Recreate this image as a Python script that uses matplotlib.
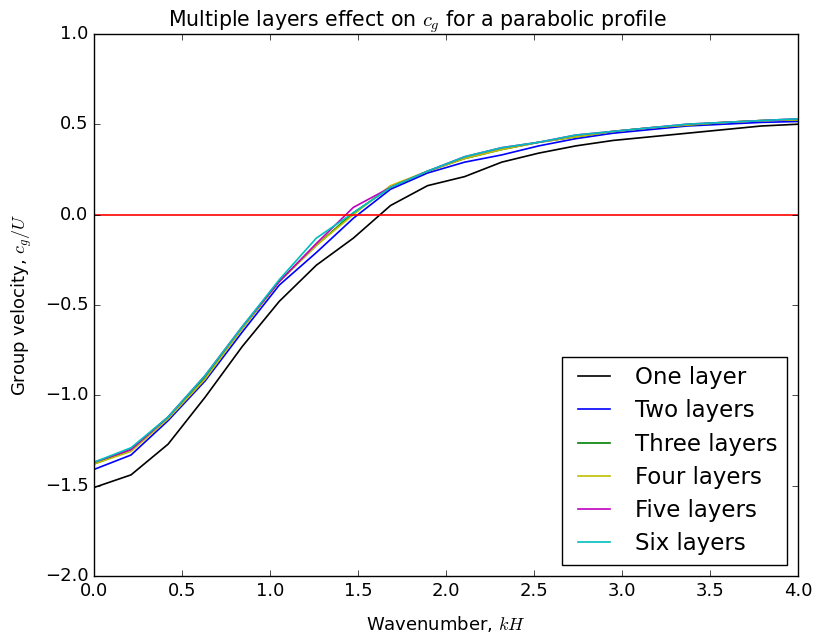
import numpy as np
import matplotlib
matplotlib.use("Agg")
import matplotlib.pyplot as plt

plt.style.use("classic")
plt.rcParams["xtick.labelsize"] = 13
plt.rcParams["ytick.labelsize"] = 13

kH = np.linspace(0, 4, 20)

one_layer = [-1.51, -1.44, -1.27, -1.01, -0.73, -0.48, -0.28, -0.13, 0.05, 0.16,
             0.21, 0.29, 0.34, 0.38, 0.41, 0.43, 0.45, 0.47, 0.49, 0.50]
two_layers = [-1.41, -1.33, -1.14, -0.92, -0.65, -0.39, -0.21, -0.02, 0.14, 0.23,
              0.29, 0.33, 0.38, 0.42, 0.45, 0.47, 0.49, 0.50, 0.51, 0.515]
three_layers = [-1.38, -1.30, -1.12, -0.90, -0.63, -0.37, -0.17, 0.01, 0.15, 0.24,
                0.31, 0.36, 0.40, 0.43, 0.46, 0.48, 0.495, 0.51, 0.52, 0.525]
four_layers = [-1.38, -1.31, -1.13, -0.91, -0.63, -0.37, -0.17, 0.00, 0.16, 0.24,
               0.31, 0.36, 0.40, 0.43, 0.46, 0.48, 0.495, 0.51, 0.52, 0.525]
five_layers = [-1.37, -1.30, -1.12, -0.89, -0.62, -0.37, -0.16, 0.04, 0.15, 0.24,
               0.32, 0.37, 0.40, 0.44, 0.46, 0.48, 0.50, 0.51, 0.52, 0.53]
six_layers = [-1.37, -1.29, -1.12, -0.89, -0.62, -0.36, -0.13, 0.01, 0.15, 0.24,
              0.32, 0.37, 0.40, 0.44, 0.46, 0.48, 0.50, 0.51, 0.52, 0.53]

series = [one_layer, two_layers, three_layers, four_layers, five_layers, six_layers]
labels = ["One layer", "Two layers", "Three layers", "Four layers", "Five layers", "Six layers"]
colors = ["k", "b", "g", "y", "m", "c"]

fig = plt.figure(figsize=(8.17, 6.38), dpi=100)
ax = fig.add_axes([0.115, 0.097, 0.862, 0.85])

for ys, lab, c in zip(series, labels, colors):
    ax.plot(kH, ys, color=c, label=lab, lw=1.2)

ax.axhline(0, color="r", lw=1.2)
ax.set_xlim(0, 4)
ax.set_ylim(-2, 1)
ax.set_xlabel("Wavenumber, $kH$", fontsize=13, labelpad=10)
ax.set_ylabel("Group velocity, $c_g/U$", fontsize=13, labelpad=8)
ax.set_title("Multiple layers effect on $c_g$ for a parabolic profile", fontsize=14.8, x=0.46)
ax.legend(loc="lower right", fontsize=16.5, labelspacing=0.45)

fig.savefig("out.png", dpi=100)
